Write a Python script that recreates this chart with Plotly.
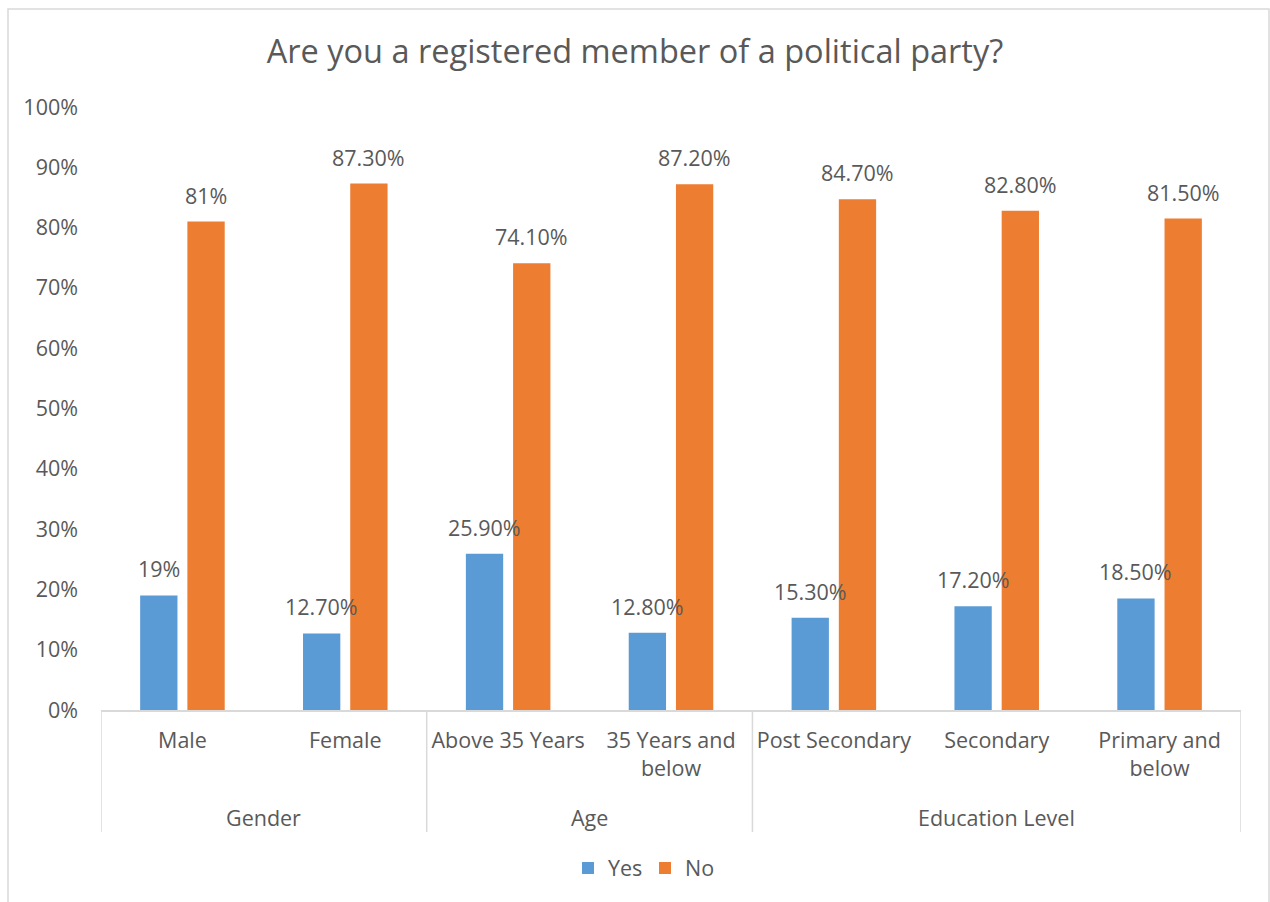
import plotly.graph_objects as go

# Survey breakdown: share answering Yes / No per demographic subgroup
categories = ["Male", "Female", "Above 35 Years", "35 Years and<br>below",
              "Post Secondary", "Secondary", "Primary and<br>below"]
groups = ["Gender", "Age", "Education Level"]
group_sizes = [2, 2, 3]
yes_values = [19, 12.7, 25.9, 12.8, 15.3, 17.2, 18.5]
no_values = [81, 87.3, 74.1, 87.2, 84.7, 82.8, 81.5]
y_ticks = [0, 10, 20, 30, 40, 50, 60, 70, 80, 90, 100]
y_tick_labels = [f"{v}%" for v in y_ticks]

BLUE = "#5B9BD5"
ORANGE = "#ED7D31"
TEXT = "#595959"
LINE = "#D9D9D9"
FONT = "Open Sans"
FS = 21.5

W, H = 1270, 902
ML, MR, MT, MB = 101, 29, 107, 192
PW, PH = W - ML - MR, H - MT - MB


def fmt(v):
    return f"{v:g}%" if float(v).is_integer() else f"{v:.2f}%"


def py(px_below_axis):
    """Paper y for a pixel distance below the plot's bottom edge."""
    return -px_below_axis / PH


def px_x(px):
    return (px - ML) / PW


def px_y(px):
    """Paper y for an absolute pixel row measured from the top."""
    return (H - MB - px) / PH


x = list(range(len(categories)))

fig = go.Figure()
fig.add_trace(go.Bar(x=x, y=yes_values, name="Yes", marker_color=BLUE,
                     marker_line_width=0))
fig.add_trace(go.Bar(x=x, y=no_values, name="No", marker_color=ORANGE,
                     marker_line_width=0))

# value labels above each bar
cat_px = PW / len(categories)
bargap = 0.42
bargroupgap = 0.21
slot_px = cat_px * (1 - bargap) / 2
annotations = []
for i in x:
    for vals, sh in ((yes_values, -slot_px / 2), (no_values, slot_px / 2)):
        annotations.append(dict(
            x=i, y=vals[i], xref="x", yref="y", text=fmt(vals[i]),
            showarrow=False, xshift=sh, yshift=10, yanchor="bottom",
            font=dict(family=FONT, size=FS, color=TEXT)))

# group labels under the category labels
start = 0
shapes = []
bounds = [-0.5]
for g, n in zip(groups, group_sizes):
    center = start + (n - 1) / 2
    annotations.append(dict(
        x=center, y=py(107), xref="x", yref="paper", text=g,
        showarrow=False, yanchor="middle",
        font=dict(family=FONT, size=FS, color=TEXT)))
    start += n
    bounds.append(start - 0.5)

# vertical separators between groups
for b in bounds:
    shapes.append(dict(type="line", xref="x", yref="paper", x0=b, x1=b,
                       y0=0, y1=py(122), line=dict(color=LINE, width=1.5)))

# outer chart border
shapes.append(dict(type="rect", xref="paper", yref="paper",
                   x0=px_x(8), x1=px_x(1269), y0=px_y(910), y1=px_y(9),
                   line=dict(color=LINE, width=1.5), fillcolor="rgba(0,0,0,0)",
                   layer="below"))

fig.update_layout(
    width=W, height=H,
    margin=dict(l=ML, r=MR, t=MT, b=MB),
    paper_bgcolor="white", plot_bgcolor="white",
    barmode="group", bargap=bargap, bargroupgap=bargroupgap,
    title=dict(text="Are you a registered member of a political party?",
               x=0.5, xanchor="center", y=1 - 52 / H, yanchor="middle",
               font=dict(family=FONT, size=32.5, color=TEXT)),
    font=dict(family=FONT, size=FS, color=TEXT),
    showlegend=True,
    legend=dict(orientation="h", x=px_x(568), xanchor="left", y=py(158),
                yanchor="middle", font=dict(family=FONT, size=FS, color=TEXT),
                itemwidth=30, tracegroupgap=0, entrywidth=32,
                entrywidthmode="pixels"),
    xaxis=dict(tickmode="array", tickvals=x, ticktext=categories,
               range=[-0.5, len(categories) - 0.5], showgrid=False,
               showline=True, linecolor=LINE, linewidth=1.5, ticks="",
               ticklabelstandoff=10,
               zeroline=False, tickfont=dict(family=FONT, size=FS, color=TEXT)),
    yaxis=dict(range=[0, 100], tickmode="array", tickvals=y_ticks,
               ticktext=y_tick_labels,
               showgrid=False, showline=False, zeroline=False, ticks="",
               ticklabelstandoff=22,
               tickfont=dict(family=FONT, size=FS, color=TEXT)),
    annotations=annotations,
    shapes=shapes,
)

fig.write_html("out.html")
